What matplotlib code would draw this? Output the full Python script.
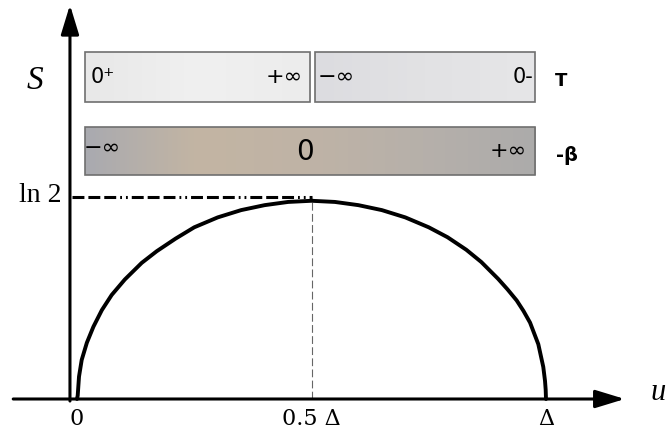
import numpy as np
import matplotlib.pyplot as plt
from matplotlib.patches import Rectangle, FancyArrowPatch
from matplotlib.colors import LinearSegmentedColormap

# entropy S against energy u (u in units of Delta)
u = [0, 0.0015, 0.0043, 0.010, 0.021, 0.035, 0.053, 0.074, 0.102, 0.138,
     0.17, 0.21, 0.25, 0.30, 0.35, 0.40, 0.45, 0.5, 0.55, 0.60,
     0.65, 0.70, 0.75, 0.79, 0.83, 0.862, 0.898, 0.918, 0.9375, 0.952,
     0.966, 0.9836, 0.9942, 0.9979, 0.9993, 1.0]
s = [0, 0.012, 0.077, 0.134, 0.193, 0.248, 0.305, 0.357, 0.410, 0.467,
     0.507, 0.550, 0.589, 0.623, 0.648, 0.665, 0.676, 0.680, 0.676, 0.665,
     0.648, 0.623, 0.589, 0.555, 0.512, 0.470, 0.412, 0.376, 0.338, 0.302,
     0.262, 0.188, 0.110, 0.062, 0.032, 0]

ln2 = 0.693
u_peak = 0.5
x_ticks = [0, 0.5, 1.0]
x_ticklabels = ['0', '0.5 Δ', 'Δ']

# temperature bar: two halves, (left label, right label)
T_labels = [('0⁺', '+∞'), ('−∞', '0-')]
# -beta bar: left, middle, right
beta_labels = ['−∞', '0', '+∞']

W, H = 667, 434
fig = plt.figure(figsize=(W / 100, H / 100), dpi=100)
ax = fig.add_axes([0, 0, 1, 1])
ax.axis('off')

serif = 'Liberation Serif'
sans = 'DejaVu Sans'


def gradient_box(x0, x1, y0, y1, colors):
    cmap = LinearSegmentedColormap.from_list('box', colors)
    im = ax.imshow(np.linspace(0, 1, 256)[None, :], cmap=cmap, aspect='auto',
                   extent=(x0, x1, y0, y1), zorder=1, interpolation='bilinear')
    rect = Rectangle((x0, y0), x1 - x0, y1 - y0, fill=False,
                     edgecolor='#6f6f6f', lw=1.2, zorder=2)
    ax.add_patch(rect)
    im.set_clip_path(rect)


# T bar
gradient_box(0.016, 0.497, 1.019, 1.190, ['#e8e8e8', '#f0f0f0', '#ececec'])
gradient_box(0.508, 0.977, 1.019, 1.190, ['#dcdce0', '#e2e2e4', '#e6e6e8'])
ax.text(0.030, 1.105, T_labels[0][0], fontsize=15, family=sans, ha='left', va='center')
ax.text(0.482, 1.105, T_labels[0][1], fontsize=16, family=sans, ha='right', va='center')
ax.text(0.514, 1.105, T_labels[1][0], fontsize=16, family=sans, ha='left', va='center')
ax.text(0.974, 1.105, T_labels[1][1], fontsize=15, family=sans, ha='right', va='center')
ax.text(1.032, 1.091, 'T', fontsize=13, family=sans, weight='bold', ha='center', va='center')

# -beta bar
gradient_box(0.016, 0.977, 0.768, 0.933,
             ['#a9aab0', '#c3b5a3', '#bfb3a6', '#b6b0aa', '#acabab'])
ax.text(0.015, 0.861, beta_labels[0], fontsize=16, family=sans, ha='left', va='center')
ax.text(0.486, 0.847, beta_labels[1], fontsize=20, family=sans, ha='center', va='center')
ax.text(0.960, 0.851, beta_labels[2], fontsize=16, family=sans, ha='right', va='center')
ax.text(1.045, 0.834, '-β', fontsize=14, family=sans, weight='bold', ha='center', va='center')

# axes drawn as arrows
arrow = '-|>,head_length=18,head_width=5.5'
ax.add_patch(FancyArrowPatch((-0.136, 0), (1.168, 0), arrowstyle=arrow,
                             mutation_scale=1, lw=2.2, color='black',
                             shrinkA=0, shrinkB=0, zorder=4))
ax.add_patch(FancyArrowPatch((-0.015, -0.007), (-0.015, 1.352), arrowstyle=arrow,
                             mutation_scale=1, lw=2.2, color='black',
                             shrinkA=0, shrinkB=0, zorder=4))

# guide lines to the maximum
ax.plot([-0.011, u_peak], [ln2, ln2], color='black', lw=2.2,
        dashes=(3.9, 1.3, 3.9, 1.3, 3.9, 1.3, 0.6, 1.3, 0.6, 1.3), zorder=3)
ax.plot([u_peak, u_peak], [0, ln2], color='#666666', lw=0.8,
        dashes=(7, 3), zorder=3)

# S(u) curve
ax.plot(u, s, color='black', lw=2.8, solid_capstyle='round',
        solid_joinstyle='round', zorder=5)

# labels
for x, lab in zip(x_ticks, x_ticklabels):
    ax.text(x, -0.069, lab, fontsize=16, family='DejaVu Serif', ha='center', va='center')
ax.text(-0.034, ln2 + 0.005, 'ln 2', fontsize=20, family=serif, ha='right', va='center')
ax.text(-0.0896, 1.091, 'S', fontsize=24, family=serif, style='italic',
        ha='center', va='center')
ax.text(1.255, 0.021, 'u', fontsize=22, family=serif, style='italic',
        ha='right', va='center')

ax.set_xlim(-77 / 469, 590 / 469)
ax.set_ylim(-35 / 291.5, 399 / 291.5)

fig.savefig('out.png', dpi=100)
